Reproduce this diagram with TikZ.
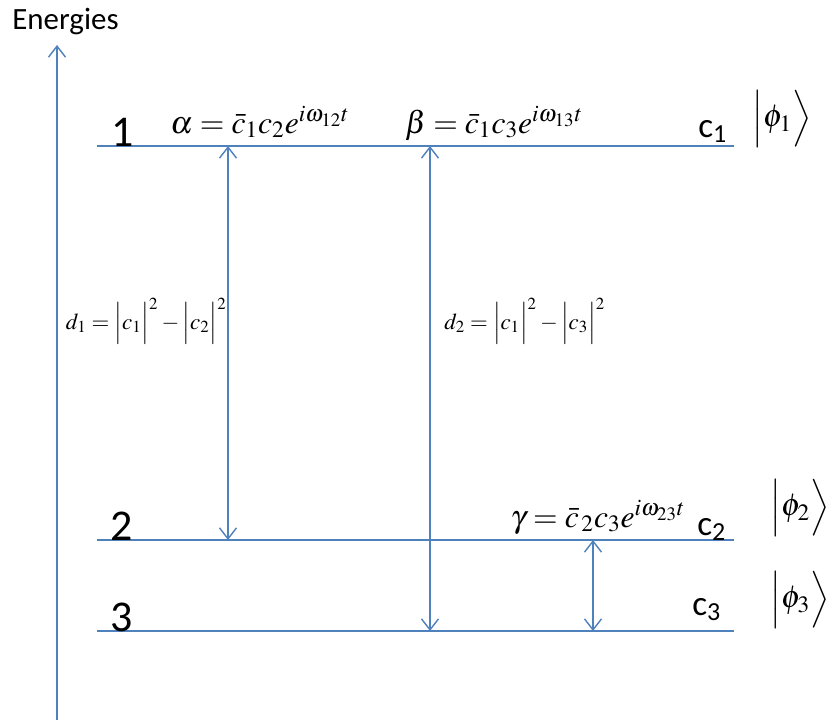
\documentclass[tikz,border=0pt]{standalone}
\usepackage{amsmath}
\usepackage{mathptmx}
\usepackage{fontspec}
\setmainfont{Carlito}
\usetikzlibrary{arrows.meta}
\definecolor{levelblue}{HTML}{4F81BD}
\tikzset{
  energyline/.style={draw=levelblue,line width=0.8pt},
  barb/.tip={Straight Barb[length=2.2mm,width=3.4mm,line width=0.8pt]},
  gaparrow/.style={draw=levelblue,line width=0.8pt,barb-barb},
  levelnum/.style={font=\fontsize{25}{30}\selectfont,anchor=base west,inner sep=0pt},
  coef/.style={font=\fontsize{20}{24}\selectfont,anchor=base west,inner sep=0pt},
  ket/.style={font=\fontsize{18}{22}\selectfont,inner sep=0pt},
  phase/.style={font=\fontsize{18}{22}\selectfont,anchor=base,inner sep=0pt},
  popdiff/.style={font=\fontsize{13}{16}\selectfont,inner sep=0pt}
}
\begin{document}
\begin{tikzpicture}[x=0.02cm,y=-0.02cm]
    \useasboundingbox (0,0) rectangle (832,720);
    % energy axis
    \node [anchor=base west,inner sep=0pt,font=\fontsize{17.6}{21}\selectfont] (elabel) at (12,30) {Energies};
    \coordinate (axbot) at (57,720);
    \coordinate (axtop) at (57,45);
    \draw [energyline,-barb] (axbot) -- (axtop);
    % levels
    \coordinate (l1w) at (97,146);  \coordinate (l1e) at (734,146);
    \coordinate (l2w) at (97,540);  \coordinate (l2e) at (734,540);
    \coordinate (l3w) at (97,631);  \coordinate (l3e) at (734,631);
    \draw [energyline] (l1w) -- (l1e);
    \draw [energyline] (l2w) -- (l2e);
    \draw [energyline] (l3w) -- (l3e);
    \node [levelnum] (n1) at (111,146) {1};
    \node [levelnum] (n2) at (110,540) {2};
    \node [levelnum] (n3) at (110,631) {3};
    % gaps between levels
    \coordinate (d1a) at (228,146); \coordinate (d1b) at (228,540);
    \coordinate (d2a) at (430,146); \coordinate (d2b) at (430,631);
    \coordinate (d3a) at (593,540); \coordinate (d3b) at (593,631);
    \draw [gaparrow] (d1a) -- (d1b);
    \draw [gaparrow] (d2a) -- (d2b);
    \draw [gaparrow] (d3a) -- (d3b);
    \node [popdiff,anchor=east] (d1) at (227,321) {$d_1=\Bigl|c_1\Bigr|^2-\Bigl|c_2\Bigr|^2$};
    \node [popdiff,anchor=west] (d2) at (444,321) {$d_2=\Bigl|c_1\Bigr|^2-\Bigl|c_3\Bigr|^2$};
    % coherences
    \node [phase] (alpha) at (260,133) {$\alpha=\bar{c}_1c_2e^{i\omega_{12}t}$};
    \node [phase] (beta) at (494,133) {$\beta=\bar{c}_1c_3e^{i\omega_{13}t}$};
    \node [phase] (gamma) at (598,527) {$\gamma=\bar{c}_{\,2}c_3e^{i\omega_{23}t}$};
    % amplitudes and states
    \node [coef] (c1) at (698,137) {c\textsubscript{1}};
    \node [coef] (c2) at (697,535) {c\textsubscript{2}};
    \node [coef] (c3) at (692,615) {c\textsubscript{3}};
    \node [ket] (phi1) at (782,119) {$\Bigl|\phi_1\Bigr\rangle$};
    \node [ket] (phi2) at (800,508) {$\Bigl|\phi_2\Bigr\rangle$};
    \node [ket] (phi3) at (800,600) {$\Bigl|\phi_3\Bigr\rangle$};
\end{tikzpicture}
\end{document}
